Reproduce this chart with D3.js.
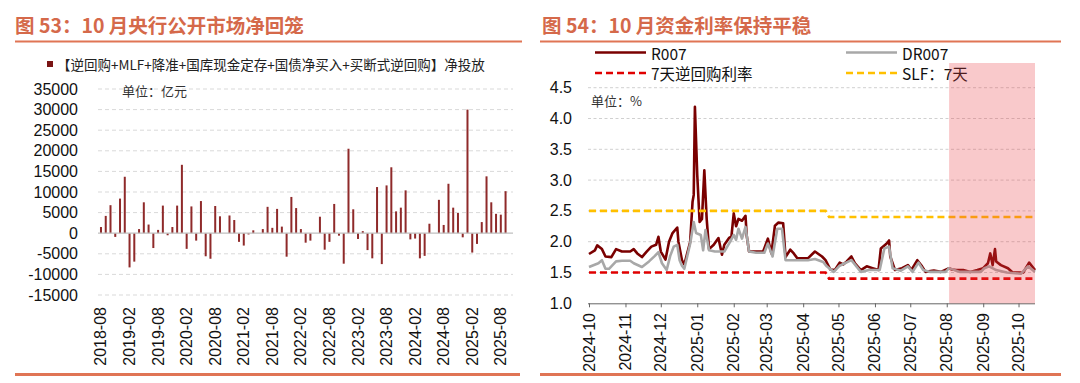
<!DOCTYPE html>
<html><head><meta charset="utf-8">
<script src="https://cdn.jsdelivr.net/npm/d3@7"></script>
<style>
html,body{margin:0;padding:0;background:#fff;}
svg{display:block;}
</style></head>
<body>
<svg id="c" width="1080" height="383"></svg>
<script>
// ---------- Left chart data ----------
const barStart = [2018, 8];
const barCount = 87;
const netInjection = [1500,4200,6800,-900,8400,13700,-8300,-6900,1000,7500,2100,-3600,800,6700,-500,1500,6700,16600,-3800,6500,-1800,7800,-5600,-6200,6600,4100,0,4300,3200,-2100,-3000,-300,700,0,1000,6400,1300,5900,1600,-5700,8800,6100,1000,-2300,-1800,0,4000,-4000,-2100,7100,-600,-7400,20500,5800,-1400,500,-4100,-6100,11200,-7500,11600,16000,5300,6200,10400,-1500,-1300,-6100,-5500,2300,0,8100,2000,12000,6200,4900,-1000,30000,-4700,-2600,2700,13800,7500,4700,4500,10200,null];
const leftYTicks = [35000,30000,25000,20000,15000,10000,5000,0,-5000,-10000,-15000];
const leftXLabels = ["2018-08","2019-02","2019-08","2020-02","2020-08","2021-02","2021-08","2022-02","2022-08","2023-02","2023-08","2024-02","2024-08","2025-02","2025-08"];

// ---------- Right chart data ----------
const r007 = [
["2024-10-01",1.80],["2024-10-06",1.86],["2024-10-08",1.94],["2024-10-12",1.88],["2024-10-15",1.76],["2024-10-20",1.75],["2024-10-24",1.88],["2024-10-29",1.84],
["2024-11-05",1.84],["2024-11-08",1.88],["2024-11-11",1.81],["2024-11-15",1.75],["2024-11-19",1.84],["2024-11-23",1.92],["2024-11-27",1.95],["2024-11-29",2.08],
["2024-12-01",1.84],["2024-12-05",1.71],["2024-12-08",2.00],["2024-12-11",2.14],["2024-12-15",2.23],["2024-12-16",2.00],["2024-12-19",1.70],["2024-12-21",1.63],["2024-12-26",2.00],["2024-12-28",2.65],["2024-12-29",2.76],["2024-12-30",4.19],
["2025-01-01",3.08],["2025-01-03",2.32],["2025-01-05",2.37],["2025-01-07",3.16],["2025-01-09",2.37],["2025-01-11",1.88],["2025-01-15",1.95],["2025-01-19",2.06],["2025-01-22",1.79],["2025-01-24",1.95],["2025-01-28",2.06],["2025-01-30",2.08],
["2025-02-01",2.46],["2025-02-03",2.25],["2025-02-05",2.37],["2025-02-08",2.34],["2025-02-11",2.42],["2025-02-12",2.10],["2025-02-14",1.84],["2025-02-20",1.84],["2025-02-26",1.84],
["2025-03-02",2.05],["2025-03-05",1.81],["2025-03-08",2.26],["2025-03-11",2.31],["2025-03-15",2.30],["2025-03-17",1.75],["2025-03-21",1.87],["2025-03-24",1.81],["2025-03-27",1.73],
["2025-04-05",1.73],["2025-04-11",1.84],["2025-04-17",1.76],["2025-04-20",1.70],["2025-04-24",1.55],["2025-04-28",1.54],
["2025-05-02",1.66],["2025-05-05",1.63],["2025-05-08",1.68],["2025-05-12",1.76],["2025-05-15",1.65],["2025-05-20",1.54],["2025-05-25",1.60],["2025-05-30",1.57],
["2025-06-04",1.54],["2025-06-06",1.89],["2025-06-11",1.97],["2025-06-13",2.02],["2025-06-14",1.76],["2025-06-18",1.54],["2025-06-24",1.57],["2025-06-29",1.62],
["2025-07-02",1.54],["2025-07-07",1.70],["2025-07-11",1.60],["2025-07-14",1.51],["2025-07-21",1.53],["2025-07-27",1.51],
["2025-08-03",1.57],["2025-08-05",1.55],["2025-08-09",1.54],["2025-08-15",1.54],["2025-08-21",1.51],["2025-08-27",1.54],
["2025-09-01",1.57],["2025-09-05",1.65],["2025-09-07",1.81],["2025-09-09",1.62],["2025-09-11",1.88],["2025-09-12",1.68],["2025-09-16",1.62],["2025-09-22",1.57],["2025-09-26",1.50],
["2025-10-05",1.50],["2025-10-10",1.66],["2025-10-15",1.54]
];
const dr007 = [
["2024-10-01",1.59],["2024-10-09",1.65],["2024-10-12",1.70],["2024-10-15",1.56],["2024-10-18",1.56],["2024-10-24",1.68],["2024-10-29",1.69],
["2024-11-05",1.69],["2024-11-08",1.65],["2024-11-15",1.59],["2024-11-21",1.68],["2024-11-26",1.77],["2024-11-29",1.83],
["2024-12-02",1.65],["2024-12-06",1.54],["2024-12-09",1.77],["2024-12-12",1.92],["2024-12-15",1.95],["2024-12-17",1.70],["2024-12-19",1.61],["2024-12-21",1.56],["2024-12-26",1.97],["2024-12-29",2.32],["2024-12-31",2.14],
["2025-01-04",2.11],["2025-01-06",1.86],["2025-01-08",2.19],["2025-01-11",1.86],["2025-01-16",1.84],["2025-01-22",1.84],["2025-01-24",1.84],["2025-01-29",2.00],
["2025-02-01",2.11],["2025-02-03",2.03],["2025-02-05",2.21],["2025-02-08",2.05],["2025-02-11",2.24],["2025-02-14",1.84],["2025-02-20",1.82],["2025-02-27",1.82],
["2025-03-02",1.97],["2025-03-06",1.76],["2025-03-10",2.21],["2025-03-14",2.21],["2025-03-17",1.70],["2025-03-23",1.70],
["2025-04-05",1.70],["2025-04-11",1.72],["2025-04-18",1.67],["2025-04-21",1.60],["2025-04-27",1.51],
["2025-05-02",1.61],["2025-05-12",1.70],["2025-05-20",1.51],["2025-05-27",1.54],
["2025-06-05",1.54],["2025-06-09",1.89],["2025-06-13",1.92],["2025-06-16",1.57],["2025-06-23",1.53],["2025-06-29",1.60],
["2025-07-03",1.51],["2025-07-08",1.66],["2025-07-12",1.54],["2025-07-18",1.51],["2025-07-31",1.51],
["2025-08-03",1.57],["2025-08-12",1.51],["2025-08-30",1.51],
["2025-09-02",1.57],["2025-09-06",1.60],["2025-09-12",1.54],["2025-09-21",1.50],
["2025-10-03",1.48],["2025-10-09",1.60],["2025-10-15",1.51]
];
const repo7d = [["2024-10-01",1.5],["2025-04-20",1.5],["2025-04-23",1.4],["2025-10-15",1.4]];
const slf7d = [["2024-10-01",2.5],["2025-04-20",2.5],["2025-04-23",2.4],["2025-10-15",2.4]];
const rightYTicks = [1.0,1.5,2.0,2.5,3.0,3.5,4.0,4.5];
const rightXTicks = ["2024-10-01","2024-11-01","2024-12-01","2025-01-01","2025-02-01","2025-03-01","2025-04-01","2025-05-01","2025-06-01","2025-07-01","2025-08-01","2025-09-01","2025-10-01"];
const shadeRange = ["2025-08-03","2025-10-15"];

// ---------- Drawing ----------
const svg = d3.select("#c");
const NUM = "'Liberation Sans', Arial, sans-serif";
const CJK = "'Noto Sans CJK SC', 'Liberation Sans', sans-serif";
const titleColor = "#d5694a";
const ruleColor = "#e07555";

// Titles and rules
svg.append("text").attr("x",15).attr("y",33).attr("font-family",CJK).attr("font-weight","bold")
  .attr("font-size",19.5).attr("fill",titleColor).text("图 53：10 月央行公开市场净回笼");
svg.append("text").attr("x",542).attr("y",33).attr("font-family",CJK).attr("font-weight","bold")
  .attr("font-size",19.5).attr("fill",titleColor).text("图 54：10 月资金利率保持平稳");
[[15,522],[540,1061]].forEach(([a,b])=>{
  svg.append("rect").attr("x",a).attr("y",40.5).attr("width",b-a).attr("height",2).attr("fill",ruleColor);
});
[[15,520],[540,1061]].forEach(([a,b])=>{
  svg.append("rect").attr("x",a).attr("y",373).attr("width",b-a).attr("height",3).attr("fill",ruleColor);
});

// ===== Left chart =====
const months = [];
for (let i=0;i<barCount;i++){
  const m = barStart[1]-1+i;
  const y = barStart[0]+Math.floor(m/12), mm = (m%12)+1;
  months.push(y+"-"+String(mm).padStart(2,"0"));
}
const xL = d3.scaleBand().domain(months).range([98.6,512.7]).paddingInner(0.58).paddingOuter(0.29);
const yL = d3.scaleLinear().domain([-15000,35000]).range([295,89]);
const gL = svg.append("g");
leftYTicks.forEach(t=>{
  if (t!==0) gL.append("line").attr("x1",98).attr("x2",513).attr("y1",yL(t)).attr("y2",yL(t))
    .attr("stroke","#d9d9d9").attr("stroke-width",1).attr("stroke-dasharray","4,3");
  gL.append("text").attr("x",78).attr("y",yL(t)).attr("text-anchor","end").attr("dominant-baseline","central")
    .attr("font-family",NUM).attr("font-size",16).attr("fill","#111").text(t);
});
gL.selectAll("rect.bar").data(months.map((m,i)=>({m,v:netInjection[i]})).filter(d=>d.v!==null))
  .enter().append("rect").attr("class","bar")
  .attr("x",d=>xL(d.m)).attr("width",xL.bandwidth())
  .attr("y",d=>yL(Math.max(0,d.v))).attr("height",d=>Math.abs(yL(d.v)-yL(0)))
  .attr("fill","#8f2a2a");
gL.append("line").attr("x1",98).attr("x2",513).attr("y1",yL(0)).attr("y2",yL(0)).attr("stroke","#bfbfbf").attr("stroke-width",1.2);
leftXLabels.forEach(l=>{
  const cx = xL(l)+xL.bandwidth()/2;
  gL.append("text").attr("x",cx).attr("y",307).attr("transform",`rotate(-90,${cx},307)`)
    .attr("text-anchor","end").attr("dominant-baseline","central")
    .attr("font-family",NUM).attr("font-size",16).attr("fill","#111").text(l);
});
gL.append("rect").attr("x",47).attr("y",61).attr("width",6).attr("height",6).attr("fill","#7a1515");
gL.append("text").attr("x",57).attr("y",64).attr("dominant-baseline","central").attr("font-family",CJK)
  .attr("font-size",13.5).attr("fill","#222").text("【逆回购+MLF+降准+国库现金定存+国债净买入+买断式逆回购】净投放");
gL.append("text").attr("x",122).attr("y",90).attr("dominant-baseline","central").attr("font-family",CJK)
  .attr("font-size",13).attr("fill","#333").text("单位：亿元");

// ===== Right chart =====
const parse = d3.timeParse("%Y-%m-%d");
const xR = d3.scaleTime().domain([parse("2024-10-01"),parse("2025-10-15")]).range([589,1035]);
const yR = d3.scaleLinear().domain([1,4.5]).range([303.3,87.7]);
const gR = svg.append("g");
rightYTicks.forEach(t=>{
  if (t!==1) gR.append("line").attr("x1",588).attr("x2",1035).attr("y1",yR(t)).attr("y2",yR(t))
    .attr("stroke","#d0d0d0").attr("stroke-width",1).attr("stroke-dasharray","3,2.5");
  gR.append("text").attr("x",572).attr("y",yR(t)).attr("text-anchor","end").attr("dominant-baseline","central")
    .attr("font-family",NUM).attr("font-size",16).attr("fill","#111").text(t.toFixed(1));
});
const line = d3.line().x(d=>xR(parse(d[0]))).y(d=>yR(d[1]));
gR.append("path").attr("d",line(r007)).attr("fill","none").attr("stroke","#7a0000").attr("stroke-width",2.6).attr("stroke-linejoin","round");
gR.append("path").attr("d",line(dr007)).attr("fill","none").attr("stroke","#a8a8a8").attr("stroke-width",2.6).attr("stroke-linejoin","round");
gR.append("path").attr("d",line(repo7d)).attr("fill","none").attr("stroke","#e00000").attr("stroke-width",2.6).attr("stroke-dasharray","7,4");
gR.append("path").attr("d",line(slf7d)).attr("fill","none").attr("stroke","#ffc000").attr("stroke-width",2.6).attr("stroke-dasharray","7,4");

// axis
const axis = d3.axisBottom(xR).tickValues(rightXTicks.map(parse)).tickSize(4).tickFormat("");
const ga = gR.append("g").attr("transform",`translate(0,${yR(1)})`).call(axis);
ga.select(".domain").attr("stroke","#666").attr("d",`M588,0.5H1035`);
ga.selectAll(".tick line").attr("stroke","#666");
rightXTicks.forEach(s=>{
  const cx = xR(parse(s));
  gR.append("text").attr("x",cx).attr("y",313).attr("transform",`rotate(-90,${cx},313)`)
    .attr("text-anchor","end").attr("dominant-baseline","central")
    .attr("font-family",NUM).attr("font-size",16).attr("fill","#111").text(s.slice(0,7));
});
gR.append("text").attr("x",591).attr("y",100).attr("dominant-baseline","central").attr("font-family",CJK)
  .attr("font-size",13).attr("fill","#333").text("单位：%");

// legend
const leg = [
  {x:595,y:52.5,c:"#7a0000",dash:null,t:"R007"},
  {x:846,y:52.5,c:"#a8a8a8",dash:null,t:"DR007"},
  {x:595,y:73,c:"#e00000",dash:"7,4",t:"7天逆回购利率"},
  {x:846,y:73,c:"#ffc000",dash:"7,4",t:"SLF：7天"}
];
leg.forEach(d=>{
  const l = gR.append("line").attr("x1",d.x).attr("x2",d.x+51).attr("y1",d.y).attr("y2",d.y)
    .attr("stroke",d.c).attr("stroke-width",2.6);
  if (d.dash) l.attr("stroke-dasharray",d.dash);
  gR.append("text").attr("x",d.x+56).attr("y",d.y).attr("dominant-baseline","central")
    .attr("font-family",CJK).attr("font-size",15.5).attr("fill","#111").text(d.t);
});

// shaded period (overlay)
gR.append("rect").attr("x",xR(parse(shadeRange[0]))).attr("y",63)
  .attr("width",xR(parse(shadeRange[1]))-xR(parse(shadeRange[0]))).attr("height",yR(1)-63)
  .attr("fill","rgb(235,60,70)").attr("opacity",0.28);
</script>
</body></html>
